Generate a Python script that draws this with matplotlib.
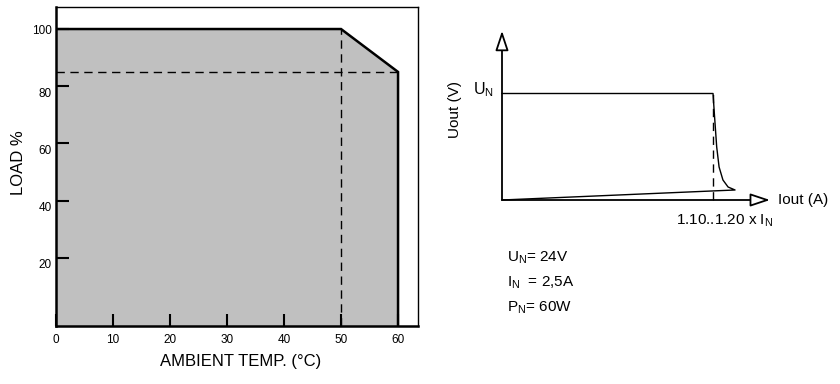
import matplotlib
matplotlib.use("Agg")
import matplotlib.pyplot as plt
import matplotlib.transforms as mtransforms

plt.rcParams['font.family'] = ['Liberation Sans', 'DejaVu Sans']
plt.rcParams['mathtext.fontset'] = 'custom'
plt.rcParams['mathtext.rm'] = 'Liberation Sans'
plt.rcParams['mathtext.default'] = 'regular'

# ---- derating curve (left) ----
temp_points = [0, 50, 60]          # ambient temperature (°C)
load_points = [100, 100, 85]       # load %
x_ticks = [0, 10, 20, 30, 40, 50, 60]
y_ticks = [20, 40, 60, 80, 100]
derate_level = 85
derate_start = 50

# ---- output characteristic (right), in units of I_N and U_N ----
i_curve = [0, 1.15, 1.157, 1.170, 1.183, 1.204, 1.232, 1.270, 0]
u_curve = [1, 1, 0.817, 0.498, 0.310, 0.188, 0.122, 0.094, 0]
i_limit = 1.15
rated_lines = ["U$_N$= 24V", "I$_N$  = 2,5A", "P$_N$= 60W"]

fig = plt.figure(figsize=(8.4, 3.84), dpi=100)

# ================= left chart =================
ax = fig.add_axes([56 / 840, 58 / 384, 362 / 840, 319 / 384])
y_low = -3.8
ax.fill_between(temp_points, load_points, y_low, color='#c0c0c0', lw=0)
ax.plot(temp_points + [temp_points[-1]], load_points + [y_low],
        color='black', lw=1.8, solid_joinstyle='miter')
ax.plot([0, temp_points[-1]], [derate_level, derate_level],
        color='black', lw=1, linestyle=(0, (6, 4)))
ax.plot([derate_start, derate_start], [y_low, 100],
        color='black', lw=1, linestyle=(0, (6, 4)))

ax.set_xlim(0, 63.5)
ax.set_ylim(y_low, 107.7)
ax.set_xticks(x_ticks)
ax.set_yticks(y_ticks)
ax.tick_params(direction='in', length=9, width=1.5, labelsize=8.5)
ax.tick_params(axis='x', pad=6)
ax.tick_params(axis='y', pad=3)
for side in ['left', 'bottom']:
    ax.spines[side].set_linewidth(1.8)
for side in ['top', 'right']:
    ax.spines[side].set_linewidth(1.0)

# labels below 100 sit a little under their ticks in the original
shift = mtransforms.ScaledTranslation(0, -0.06, fig.dpi_scale_trans)
for lab in ax.get_yticklabels():
    if lab.get_text() != '100':
        lab.set_transform(lab.get_transform() + shift)

ax.set_xlabel('AMBIENT TEMP. (°C)', fontsize=12)
ax.xaxis.set_label_coords(0.511, -0.088)
ax.set_ylabel('LOAD %', fontsize=12)
ax.yaxis.set_label_coords(-0.082, 0.511)

# ================= right diagram =================
ax2 = fig.add_axes([502 / 840, 184 / 384, 268 / 840, 166 / 384])
ax2.set_xlim(0, 268 / 183.5)
ax2.set_ylim(0, 166 / 106.5)
ax2.axis('off')

arrow = dict(arrowstyle='-|>,head_length=0.6,head_width=0.2',
             facecolor='white', edgecolor='black', lw=1.3,
             shrinkA=0, shrinkB=0, mutation_scale=20)
ax2.annotate('', xy=(ax2.get_xlim()[1], 0), xytext=(0, 0),
             arrowprops=arrow, annotation_clip=False)
ax2.annotate('', xy=(0, ax2.get_ylim()[1] + 0.03), xytext=(0, 0),
             arrowprops=arrow, annotation_clip=False)

ax2.plot(i_curve, u_curve, color='black', lw=1, clip_on=False)
ax2.plot([i_limit, i_limit], [0, 1], color='black', lw=1,
         linestyle=(0, (6, 4)), clip_on=False)

ax2.text(-0.044, 0.995, 'U$_N$', fontsize=11.5, ha='right', va='baseline')
ax2.text(-0.256, 0.85, 'Uout (V)', fontsize=11, rotation=90,
         ha='center', va='center')
ax2.text(1.504, 0, 'Iout (A)', fontsize=11, ha='left', va='center')
ax2.text(0.948, -0.235, '1.10..1.20 x I$_N$', fontsize=11,
         ha='left', va='baseline')

for k, line in enumerate(rated_lines):
    ax2.text(0.027, -0.58 - 0.235 * k, line, fontsize=11,
             ha='left', va='baseline')

fig.savefig('out.png', dpi=100)
